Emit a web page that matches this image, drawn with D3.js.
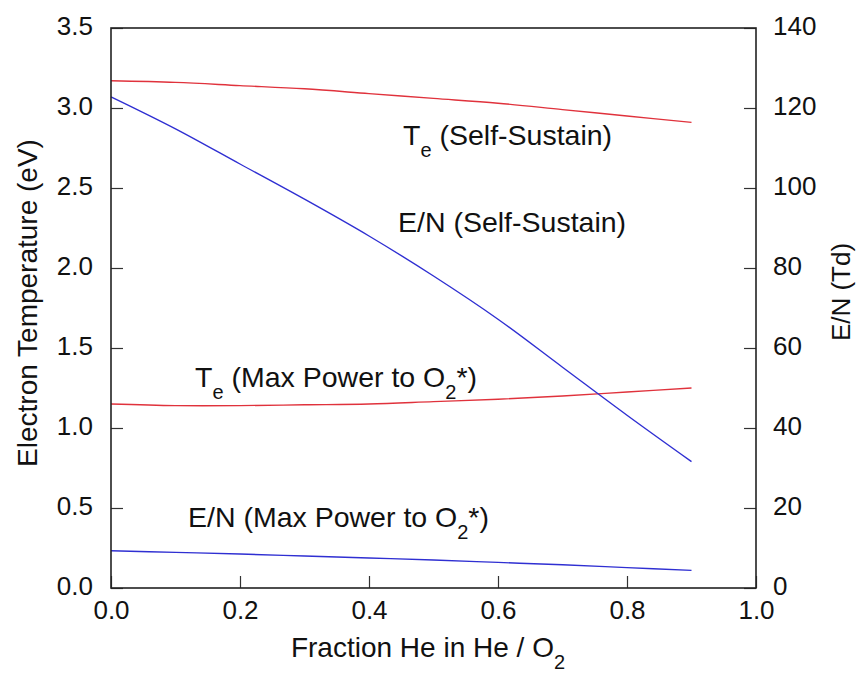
<!DOCTYPE html>
<html>
<head>
<meta charset="utf-8">
<script src="https://cdn.jsdelivr.net/npm/d3@7"></script>
<style>
  body { margin: 0; background: #fff; }
  svg { display: block; }
  text { font-family: "Liberation Sans", Arial, Helvetica, sans-serif; fill: #111; }
</style>
</head>
<body>
<svg id="chart" width="857" height="673"></svg>
<script>
// Fraction of He in the He / O2 mixture
const heFraction = [0.0, 0.1, 0.2, 0.3, 0.4, 0.5, 0.6, 0.7, 0.8, 0.9];

// Electron temperature (eV), left axis
const teSelfSustain = [3.17, 3.16, 3.14, 3.12, 3.09, 3.06, 3.03, 2.99, 2.95, 2.91];
const teMaxPower    = [1.15, 1.14, 1.14, 1.145, 1.15, 1.165, 1.18, 1.20, 1.225, 1.25];

// Reduced field E/N (Td), right axis
const enSelfSustain = [122.8, 114.8, 106.0, 97.2, 88.0, 78.0, 67.2, 55.2, 43.2, 31.6];
const enMaxPower    = [9.3, 8.9, 8.5, 8.0, 7.5, 7.0, 6.4, 5.8, 5.1, 4.4];

// Tick values
const xTicks = [0.0, 0.2, 0.4, 0.6, 0.8, 1.0];
const leftTicks = [0.0, 0.5, 1.0, 1.5, 2.0, 2.5, 3.0, 3.5];
const rightTicks = [0, 20, 40, 60, 80, 100, 120, 140];

const svg = d3.select("#chart");
const m = { left: 111, top: 28, right: 756, bottom: 588 };

const x = d3.scaleLinear().domain([0, 1]).range([m.left, m.right]);
const yL = d3.scaleLinear().domain([0, 3.5]).range([m.bottom, m.top]);
const yR = d3.scaleLinear().domain([0, 140]).range([m.bottom, m.top]);

const red = "#e0323c";
const blue = "#2f2fd2";

// curves
const lineL = d3.line().x((d, i) => x(heFraction[i])).y(d => yL(d)).curve(d3.curveCatmullRom);
const lineR = d3.line().x((d, i) => x(heFraction[i])).y(d => yR(d)).curve(d3.curveCatmullRom);

const series = [
  { values: teSelfSustain, line: lineL, color: red },
  { values: teMaxPower, line: lineL, color: red },
  { values: enSelfSustain, line: lineR, color: blue },
  { values: enMaxPower, line: lineR, color: blue }
];
svg.append("g").selectAll("path").data(series).join("path")
  .attr("d", s => s.line(s.values))
  .attr("fill", "none")
  .attr("stroke", s => s.color)
  .attr("stroke-width", 1.4);

// axes with inward ticks
const tickFont = "26px";
const gL = svg.append("g").attr("transform", `translate(${m.left},0)`)
  .call(d3.axisLeft(yL).tickValues(leftTicks).tickFormat(d3.format(".1f")).tickSize(-12).tickPadding(18));
const gR = svg.append("g").attr("transform", `translate(${m.right},0)`)
  .call(d3.axisRight(yR).tickValues(rightTicks).tickFormat(d3.format("d")).tickSize(-12).tickPadding(17));
const gB = svg.append("g").attr("transform", `translate(0,${m.bottom})`)
  .call(d3.axisBottom(x).tickValues(xTicks).tickFormat(d3.format(".1f")).tickSize(-12).tickPadding(13));

[gL, gR, gB].forEach(g => {
  g.select(".domain").remove();
  g.selectAll(".tick line").attr("stroke", "#333").attr("stroke-width", 1.2);
  g.selectAll(".tick text").attr("font-size", tickFont).attr("fill", "#111");
});
gL.selectAll(".tick text").attr("dy", "0.25em");
gR.selectAll(".tick text").attr("dy", "0.25em");

// frame
svg.append("rect")
  .attr("x", m.left).attr("y", m.top)
  .attr("width", m.right - m.left).attr("height", m.bottom - m.top)
  .attr("fill", "none").attr("stroke", "#222").attr("stroke-width", 1.6);

// axis titles
const titleSize = 28;
const xt = svg.append("text").attr("x", 428).attr("y", 657)
  .attr("text-anchor", "middle").attr("font-size", titleSize);
xt.append("tspan").text("Fraction He in He / O");
xt.append("tspan").attr("dy", 12).attr("font-size", 20).text("2");

svg.append("text")
  .attr("transform", "translate(37,303) rotate(-90)")
  .attr("text-anchor", "middle").attr("font-size", titleSize)
  .text("Electron Temperature (eV)");

svg.append("text")
  .attr("transform", "translate(850,292) rotate(-90)")
  .attr("text-anchor", "middle").attr("font-size", 26)
  .text("E/N (Td)");

// curve annotations
const annSize = 28.5;
function label(xp, yp, parts) {
  const t = svg.append("text").attr("x", xp).attr("y", yp).attr("font-size", annSize);
  parts.forEach(p => {
    const s = t.append("tspan").text(p.t);
    if (p.sub) s.attr("dy", 12).attr("font-size", 20);
    if (p.up) s.attr("dy", -12);
  });
}
label(403, 145, [{ t: "T" }, { t: "e", sub: true }, { t: " (Self-Sustain)", up: true }]);
label(398, 232, [{ t: "E/N (Self-Sustain)" }]);
label(195, 387, [{ t: "T" }, { t: "e", sub: true }, { t: " (Max Power to O", up: true }, { t: "2", sub: true }, { t: "*)", up: true }]);
label(188, 527, [{ t: "E/N (Max Power to O" }, { t: "2", sub: true }, { t: "*)", up: true }]);
</script>
</body>
</html>
